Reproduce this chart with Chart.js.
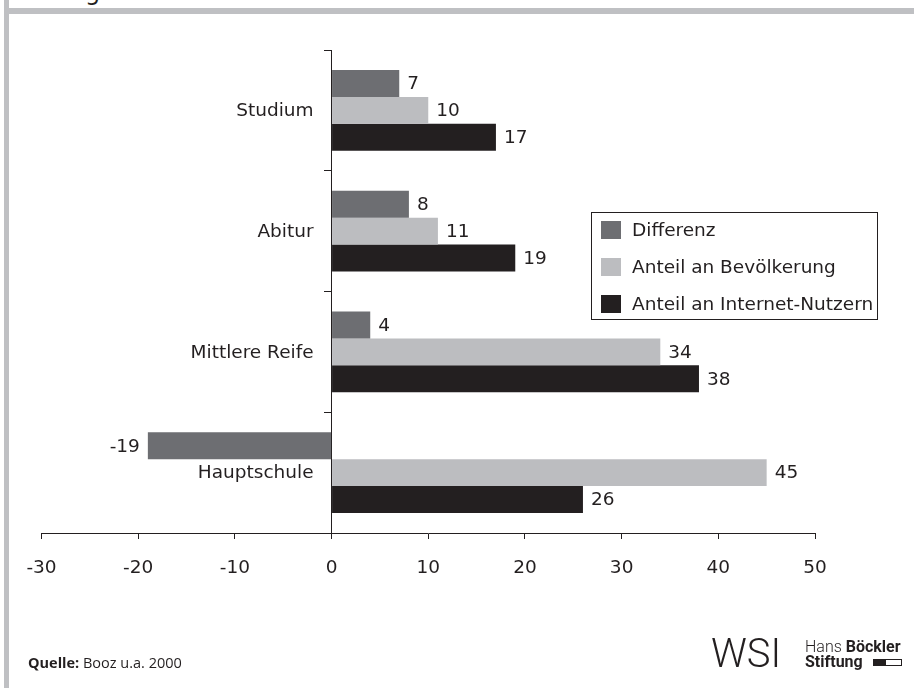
<!DOCTYPE html>
<html>
<head>
<meta charset="utf-8">
<script src="https://cdn.jsdelivr.net/npm/chart.js@4.4.1/dist/chart.umd.min.js"></script>
<style>
html,body{margin:0;padding:0;background:#fff;width:914px;height:688px;overflow:hidden;}
body{position:relative;}
.band{position:absolute;background:#bfc0c3;}
#wrap{position:absolute;left:0;top:0;width:914px;height:688px;}
#clip{position:absolute;left:80px;top:0;width:40px;height:8px;overflow:hidden;}
#clip span{position:absolute;left:5px;top:-22px;font:24px "DejaVu Sans";color:#231f20;line-height:normal;}
</style>
</head>
<body>
<div class="band" style="left:4px;top:0;width:5px;height:688px"></div>
<div class="band" style="left:4px;top:8px;width:910px;height:6px"></div>
<div id="clip"><span>g</span></div>
<div id="wrap"><canvas id="c" width="914" height="688"></canvas></div>
<script>
const categories = ['Studium', 'Abitur', 'Mittlere Reife', 'Hauptschule'];
const seriesNames = ['Differenz', 'Anteil an Bevölkerung', 'Anteil an Internet-Nutzern'];
const differenz = [7, 8, 4, -19];
const bevoelkerung = [10, 11, 34, 45];
const internet = [17, 19, 38, 26];
const xTicks = [-30, -20, -10, 0, 10, 20, 30, 40, 50];
const seriesColors = ['#6d6e72', '#bcbdc0', '#231f20'];
const ink = '#231f20';
const FONT = '"DejaVu Sans"';
const FS = 18.5;

const valueLabels = {
  id: 'valueLabels',
  afterDatasetsDraw(chart) {
    const ctx = chart.ctx;
    ctx.save();
    ctx.font = FS + 'px ' + FONT;
    ctx.fillStyle = ink;
    ctx.textBaseline = 'middle';
    chart.data.datasets.forEach((ds, i) => {
      chart.getDatasetMeta(i).data.forEach((bar, j) => {
        const v = ds.data[j];
        if (v >= 0) {
          ctx.textAlign = 'left';
          ctx.fillText(String(v), bar.x + 8, bar.y + 1);
        } else {
          ctx.textAlign = 'right';
          ctx.fillText(String(v), bar.x - 8, bar.y + 1);
        }
      });
    });
    ctx.restore();
  }
};

const categoryLabels = {
  id: 'categoryLabels',
  afterDraw(chart) {
    const ctx = chart.ctx;
    const xs = chart.scales.x, ys = chart.scales.y;
    const x0 = xs.getPixelForValue(0) - 18;
    ctx.save();
    ctx.font = FS + 'px ' + FONT;
    ctx.fillStyle = ink;
    ctx.textAlign = 'right';
    ctx.textBaseline = 'middle';
    categories.forEach((c, j) => {
      ctx.fillText(c, x0, ys.getPixelForValue(j) + 1);
    });
    ctx.restore();
  }
};

const boxLegend = {
  id: 'boxLegend',
  afterDraw(chart) {
    const ctx = chart.ctx;
    ctx.save();
    ctx.strokeStyle = ink;
    ctx.lineWidth = 1;
    ctx.strokeRect(591.5, 212.5, 286, 107);
    ctx.font = FS + 'px ' + FONT;
    ctx.textBaseline = 'middle';
    ctx.textAlign = 'left';
    chart.data.datasets.forEach((ds, i) => {
      const cy = 230 + i * 37;
      ctx.fillStyle = ds.backgroundColor;
      ctx.fillRect(601, cy - 9, 20, 18);
      ctx.fillStyle = ink;
      ctx.fillText(ds.label, 632, cy + 1);
    });
    ctx.restore();
  }
};

const footer = {
  id: 'footer',
  afterDraw(chart) {
    const ctx = chart.ctx;
    ctx.save();
    ctx.fillStyle = ink;
    ctx.textBaseline = 'alphabetic';
    ctx.textAlign = 'left';
    ctx.font = 'bold 14.5px "Open Sans"';
    const q = 'Quelle:';
    ctx.fillText(q, 28, 668);
    const w = ctx.measureText(q + ' ').width;
    ctx.font = '14.5px "Open Sans"';
    ctx.fillText('Booz u.a. 2000', 28 + w, 668);

    ctx.font = '300 40px Roboto';
    ctx.fillText('WSI', 711, 667);

    ctx.font = '300 16px Roboto';
    ctx.fillText('Hans', 805, 652);
    const hw = ctx.measureText('Hans ').width;
    ctx.font = 'bold 16px Roboto';
    ctx.fillText('Böckler', 805 + hw, 652);
    ctx.fillText('Stiftung', 805, 667);
    ctx.fillRect(873, 659, 13, 7);
    ctx.strokeStyle = ink;
    ctx.lineWidth = 1;
    ctx.strokeRect(885.5, 659.5, 16, 6);
    ctx.restore();
  }
};

new Chart(document.getElementById('c'), {
  type: 'bar',
  data: {
    labels: categories,
    datasets: [
      { label: seriesNames[0], data: differenz, backgroundColor: seriesColors[0] },
      { label: seriesNames[1], data: bevoelkerung, backgroundColor: seriesColors[1] },
      { label: seriesNames[2], data: internet, backgroundColor: seriesColors[2] }
    ]
  },
  options: {
    indexAxis: 'y',
    responsive: false,
    animation: false,
    devicePixelRatio: 1,
    layout: { padding: { left: 41.5, right: 99, top: 50, bottom: 115 } },
    datasets: { bar: { barPercentage: 1, categoryPercentage: 0.668, borderWidth: 0 } },
    plugins: { legend: { display: false }, tooltip: { enabled: false } },
    scales: {
      x: {
        type: 'linear',
        min: -30,
        max: 50,
        afterBuildTicks(s) { s.ticks = xTicks.map(v => ({ value: v })); },
        afterFit(s) { s.height = 40; },
        grid: { drawOnChartArea: false, drawTicks: true, tickLength: 6, color: ink, lineWidth: 1 },
        border: { display: true, color: ink, width: 1 },
        ticks: { font: { family: 'DejaVu Sans', size: FS }, color: ink, padding: 18, maxRotation: 0, autoSkip: false }
      },
      y: {
        type: 'category',
        position: { x: 0 },
        grid: { drawOnChartArea: false, drawTicks: true, tickLength: 7, color: ink, lineWidth: 1, offset: true },
        border: { display: true, color: ink, width: 1 },
        ticks: { display: false }
      }
    }
  },
  plugins: [valueLabels, categoryLabels, boxLegend, footer]
});
</script>
</body>
</html>
